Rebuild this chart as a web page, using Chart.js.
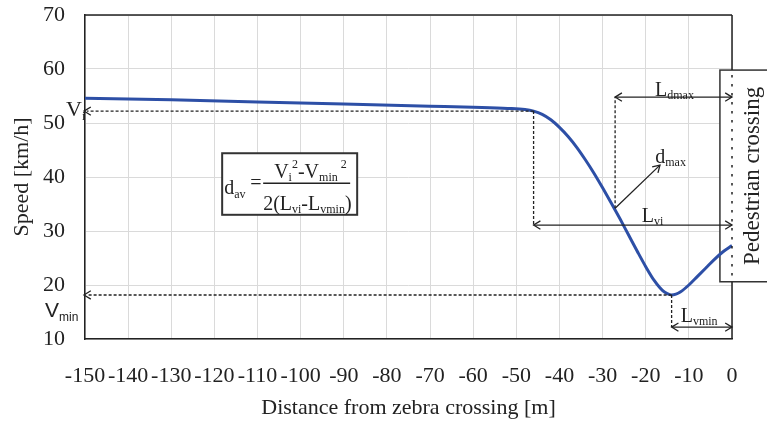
<!DOCTYPE html>
<html>
<head>
<meta charset="utf-8">
<script src="https://cdn.jsdelivr.net/npm/chart.js@4"></script>
<style>
  html, body { margin: 0; padding: 0; background: #fff; }
  #wrap { width: 767px; height: 425px; }
</style>
</head>
<body>
<div id="wrap"><canvas id="speed-chart"></canvas></div>
<script>
// distance before the zebra crossing [m] and speed [km/h]
var distances = [-150, -130, -110, -90, -70, -60, -52, -48, -46, -44, -42, -40, -38, -36, -34, -32, -30,
                 -28, -26, -24, -22, -20, -18, -16, -15, -14, -13, -12, -10, -8, -6, -4, -2, 0];
var speeds = [54.6, 54.3, 53.9, 53.5, 53.1, 52.9, 52.7, 52.5, 52.2, 51.6, 50.6, 49.2, 47.5, 45.5, 43.2, 40.7, 38.0,
              35.2, 32.3, 29.3, 26.3, 23.4, 20.8, 18.9, 18.4, 18.15, 18.3, 18.7, 20.0, 21.6, 23.2, 24.8, 26.2, 27.3];

// marked points on the curve
var viPoint = { x: -46, y: 52.2 };
var vminPoint = { x: -14, y: 18.15 };
var dmaxPoint = { x: -27.1, y: 34.2 };
var dmaxArrowEnd = { x: -16.7, y: 42.2 };
// levels of the dimension arrows [km/h]
var ldmaxLevel = 54.8;
var lviLevel = 31.1;
var lvminLevel = 12.2;

var serif = "'Liberation Serif', 'Times New Roman', serif";
var ink = "#222";

function runs(ctx, x, base, parts, family) {
    // parts: [text, size, dy]
    parts.forEach(function(p) {
        ctx.font = p[1] + "px " + (family || serif);
        ctx.fillText(p[0], x, base + (p[2] || 0));
        x += ctx.measureText(p[0]).width;
    });
    return x;
}

function line(ctx, x1, y1, x2, y2) {
    ctx.beginPath();
    ctx.moveTo(x1, y1);
    ctx.lineTo(x2, y2);
    ctx.stroke();
}

function arrowHead(ctx, x, y, ang) {
    var len = 8, spread = 0.55;
    ctx.beginPath();
    ctx.moveTo(x - len * Math.cos(ang - spread), y - len * Math.sin(ang - spread));
    ctx.lineTo(x, y);
    ctx.lineTo(x - len * Math.cos(ang + spread), y - len * Math.sin(ang + spread));
    ctx.stroke();
}

var annotate = {
    id: "annotate",
    beforeDatasetsDraw: function(chart) {
        var ctx = chart.ctx, xs = chart.scales.x, ys = chart.scales.y;
        ctx.save();
        // formula box
        var bx = xs.getPixelForValue(-118.2), by = ys.getPixelForValue(44.4);
        var bw = xs.getPixelForValue(-86.9) - bx, bh = ys.getPixelForValue(33.0) - by;
        ctx.fillStyle = "#fff";
        ctx.fillRect(bx, by, bw, bh);
        ctx.strokeStyle = "#333";
        ctx.lineWidth = 2;
        ctx.strokeRect(bx, by, bw, bh);
        // pedestrian crossing box
        var cx = xs.getPixelForValue(-2.8), cy = ys.getPixelForValue(59.8), cb = ys.getPixelForValue(20.6);
        ctx.fillStyle = "#fff";
        ctx.fillRect(cx, cy, chart.width - cx + 5, cb - cy);
        ctx.lineWidth = 1.5;
        ctx.strokeRect(cx, cy, chart.width - cx + 5, cb - cy);
        ctx.restore();
    },
    afterDatasetsDraw: function(chart) {
        var ctx = chart.ctx, a = chart.chartArea, xs = chart.scales.x, ys = chart.scales.y;
        function px(v) { return xs.getPixelForValue(v); }
        function py(v) { return ys.getPixelForValue(v); }
        ctx.save();
        ctx.fillStyle = ink;
        ctx.strokeStyle = ink;
        ctx.textAlign = "left";
        ctx.textBaseline = "alphabetic";

        // frame: top and right
        var cy = py(59.8), cb = py(20.6);
        ctx.lineWidth = 1.5;
        line(ctx, a.left, a.top, a.right, a.top);
        line(ctx, a.right, a.top, a.right, cy);
        line(ctx, a.right, cb, a.right, a.bottom);
        ctx.setLineDash([2.5, 6.5]);
        line(ctx, a.right, cy + 5, a.right, cb);

        // dashed guides
        ctx.lineWidth = 1.3;
        ctx.setLineDash([3, 2]);
        line(ctx, px(viPoint.x), py(viPoint.y), a.left + 2, py(viPoint.y));
        line(ctx, px(viPoint.x), py(viPoint.y), px(viPoint.x), py(lviLevel));
        line(ctx, px(vminPoint.x), py(vminPoint.y), a.left + 2, py(vminPoint.y));
        line(ctx, px(vminPoint.x), py(vminPoint.y), px(vminPoint.x), py(lvminLevel));
        line(ctx, px(dmaxPoint.x), py(dmaxPoint.y), px(dmaxPoint.x), py(ldmaxLevel));
        ctx.setLineDash([]);
        arrowHead(ctx, a.left - 1, py(viPoint.y), Math.PI);
        arrowHead(ctx, a.left - 1, py(vminPoint.y), Math.PI);

        // dimension arrows
        [[dmaxPoint.x, ldmaxLevel], [viPoint.x, lviLevel], [vminPoint.x, lvminLevel]].forEach(function(d) {
            var x1 = px(d[0]), x2 = a.right, y = py(d[1]);
            line(ctx, x1, y, x2, y);
            arrowHead(ctx, x1, y, Math.PI);
            arrowHead(ctx, x2, y, 0);
        });

        // dmax arrow
        var sx = px(dmaxPoint.x), sy = py(dmaxPoint.y), ex = px(dmaxArrowEnd.x), ey = py(dmaxArrowEnd.y);
        line(ctx, sx, sy, ex, ey);
        arrowHead(ctx, ex, ey, Math.atan2(ey - sy, ex - sx));

        // labels
        runs(ctx, px(-17.85), py(ldmaxLevel) - 1, [["L", 20], ["dmax", 12, 3]]);
        runs(ctx, px(-20.9), py(lviLevel) - 3, [["L", 20], ["vi", 12, 3]]);
        runs(ctx, px(-11.9), py(lvminLevel) - 5, [["L", 20], ["vmin", 12, 3]]);
        runs(ctx, px(-17.8), sy - 45, [["d", 20], ["max", 12, 3]]);
        runs(ctx, 66, py(viPoint.y) + 5, [["V", 22], ["i", 12, 4]]);
        runs(ctx, 45, py(vminPoint.y) + 22, [["V", 21], ["min", 12, 4]], "'Liberation Sans', Arial, sans-serif");

        // formula
        var bx = px(-118.2), by = py(44.4);
        runs(ctx, bx + 2, by + 41, [["d", 20], ["av", 12, 4]]);
        runs(ctx, bx + 28, by + 36, [["=", 20]]);
        ctx.lineWidth = 1.5;
        line(ctx, bx + 41, by + 30, bx + 128, by + 30);
        runs(ctx, bx + 52, by + 25, [["V", 20], ["i", 12, 3], ["2", 12, -10], ["-V", 20], ["min", 12, 3], [" ", 12], ["2", 12, -10]]);
        runs(ctx, bx + 41, by + 57, [["2(L", 20], ["vi", 12, 3], ["-L", 20], ["vmin", 12, 3], [")", 20]]);

        // crossing label
        ctx.translate(753, (py(59.8) + py(20.6)) / 2);
        ctx.rotate(-Math.PI / 2);
        ctx.textAlign = "center";
        ctx.textBaseline = "middle";
        ctx.font = "23px " + serif;
        ctx.fillText("Pedestrian crossing", 0, 0);
        ctx.restore();
    }
};

var points = distances.map(function(d, i) { return { x: d, y: speeds[i] }; });
var tickFont = { family: serif, size: 22 };

new Chart("speed-chart", {
    type: "line",
    data: {
        datasets: [{
            data: points,
            borderColor: "#2d4fa6",
            borderWidth: 3,
            pointRadius: 0,
            fill: false,
            cubicInterpolationMode: "monotone"
        }]
    },
    options: {
        responsive: true,
        maintainAspectRatio: false,
        animation: false,
        layout: { padding: { top: 15, right: 35, left: 0, bottom: 0 } },
        plugins: {
            legend: { display: false },
            tooltip: { enabled: false }
        },
        scales: {
            x: {
                type: "linear",
                min: -150,
                max: 0,
                afterFit: function(s) { s.height = 86; },
                border: { display: true, color: ink, width: 1.5 },
                grid: { color: "#dadada", drawTicks: false },
                ticks: { stepSize: 10, autoSkip: false, maxRotation: 0, padding: 24, color: ink, font: tickFont },
                title: { display: true, text: "Distance from zebra crossing [m]", color: ink, font: tickFont, padding: { top: 4, bottom: 4 } }
            },
            y: {
                min: 10,
                max: 70,
                afterFit: function(s) { s.width = 85; s.paddingTop = 0; s.paddingBottom = 0; },
                border: { display: true, color: ink, width: 1.5 },
                grid: { color: "#dadada", drawTicks: false },
                ticks: { stepSize: 10, padding: 20, color: ink, font: tickFont },
                title: { display: true, text: "Speed [km/h]", color: ink, font: tickFont, padding: { top: 9, bottom: 0 } }
            }
        }
    },
    plugins: [annotate]
});
</script>
</body>
</html>
